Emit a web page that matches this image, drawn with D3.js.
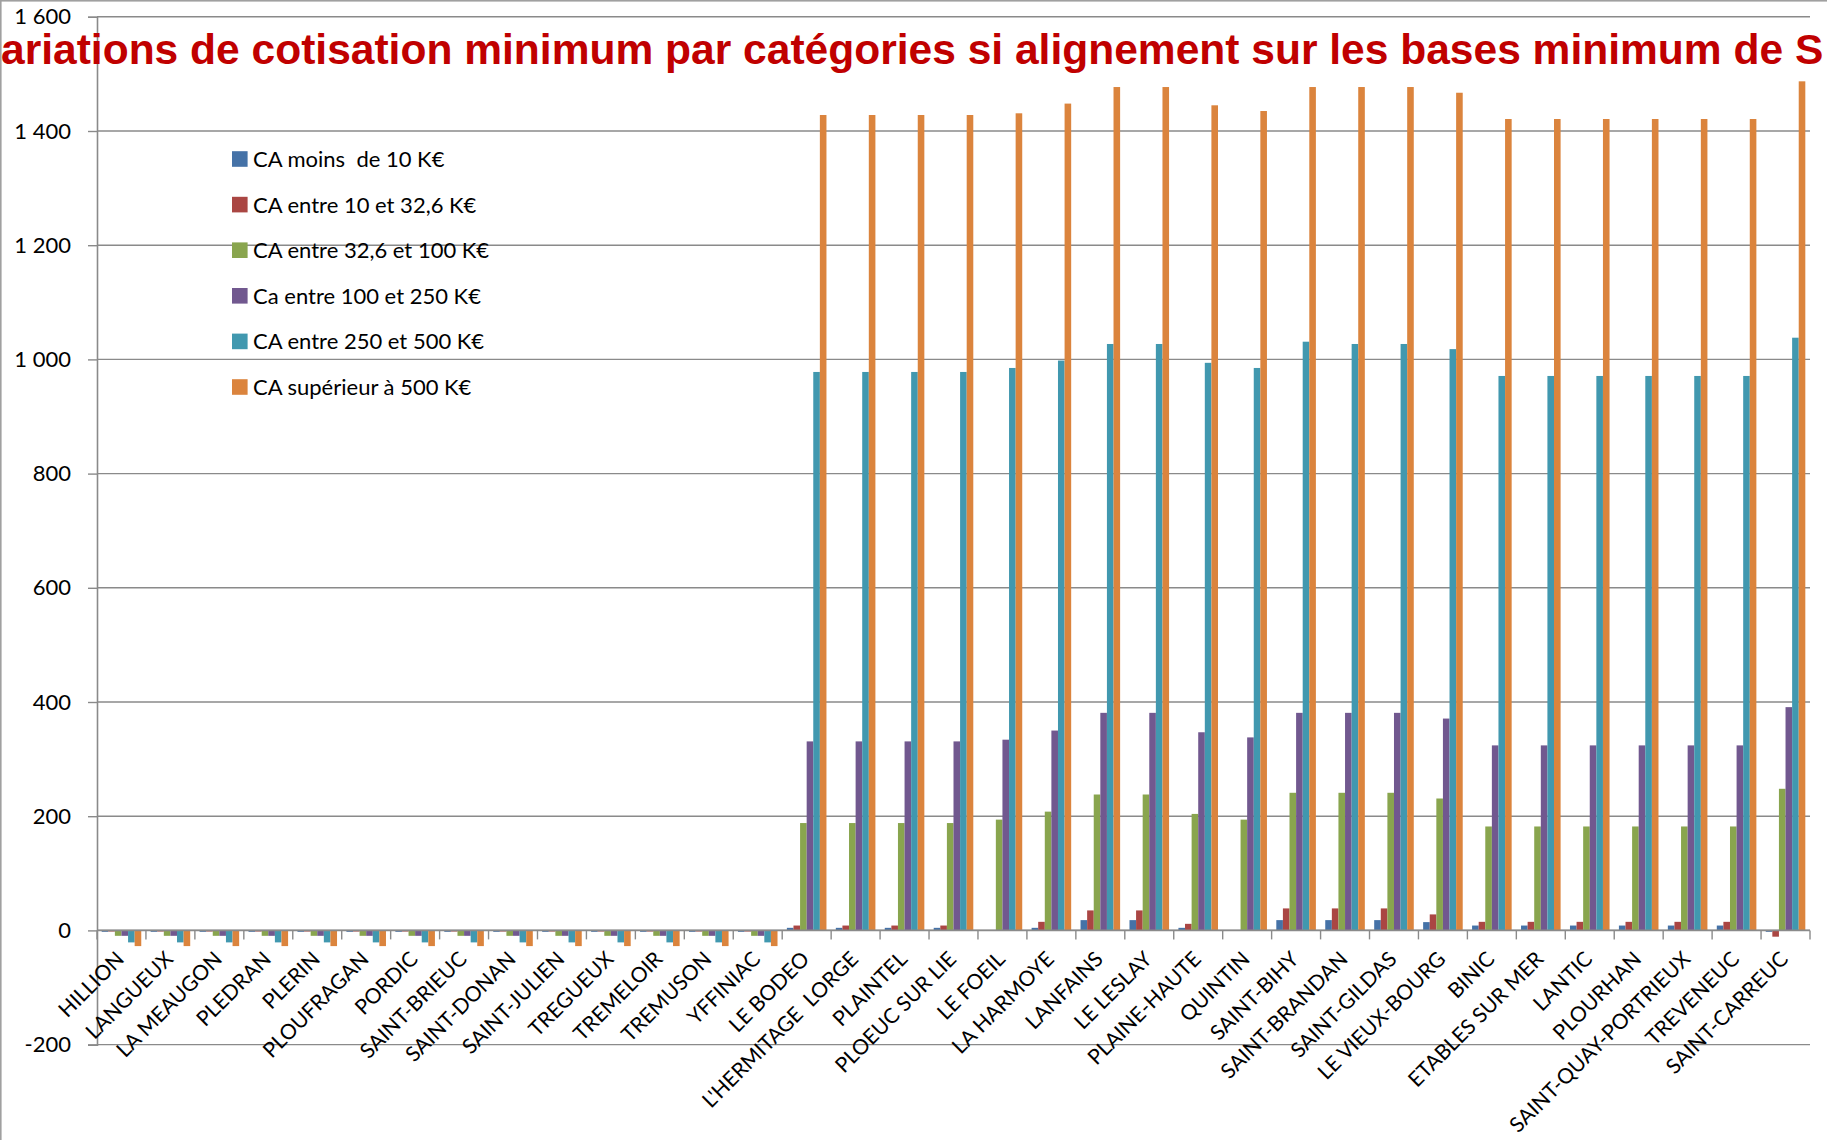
<!DOCTYPE html>
<html>
<head>
<meta charset="utf-8">
<script src="https://cdn.jsdelivr.net/npm/d3@7"></script>
<style>
  html, body { margin: 0; padding: 0; background: #fff; }
  svg { display: block; }
</style>
</head>
<body>
<svg id="chart" width="1827" height="1140"></svg>
<script>
const titleText = "ariations de cotisation minimum par catégories si alignement sur les bases minimum de S";

const categories = [
  "HILLION", "LANGUEUX", "LA MEAUGON", "PLEDRAN", "PLERIN", "PLOUFRAGAN", "PORDIC",
  "SAINT-BRIEUC", "SAINT-DONAN", "SAINT-JULIEN", "TREGUEUX", "TREMELOIR", "TREMUSON",
  "YFFINIAC", "LE BODEO", "L'HERMITAGE  LORGE", "PLAINTEL", "PLOEUC SUR LIE", "LE FOEIL",
  "LA HARMOYE", "LANFAINS", "LE LESLAY", "PLAINE-HAUTE", "QUINTIN", "SAINT-BIHY",
  "SAINT-BRANDAN", "SAINT-GILDAS", "LE VIEUX-BOURG", "BINIC", "ETABLES SUR MER",
  "LANTIC", "PLOURHAN", "SAINT-QUAY-PORTRIEUX", "TREVENEUC", "SAINT-CARREUC"
];

const seriesNames = [
  "CA moins  de 10 K€",
  "CA entre 10 et 32,6 K€",
  "CA entre 32,6 et 100 K€",
  "Ca entre 100 et 250 K€",
  "CA entre 250 et 500 K€",
  "CA supérieur à 500 K€"
];

const seriesColors = ["#4572A7", "#AA4643", "#89A54E", "#71588F", "#4198AF", "#DB843D"];

const caMoins10 = [
  -2.5, -2.5, -2.5, -2.5, -2.5, -2.5, -2.5, -2.5, -2.5, -2.5, -2.5, -2.5, -2.5, -2.5,
  4.5, 4.5, 4.5, 4.5, 0.5, 4.5, 18, 18, 4.5, 0.5, 18, 18, 18, 14.5,
  8.5, 8.5, 8.5, 8.5, 8.5, 8.5, -2.5
];
const ca10a32 = [
  -2, -2, -2, -2, -2, -2, -2, -2, -2, -2, -2, -2, -2, -2,
  8.5, 8.5, 8.5, 8.5, 0.5, 15, 35, 35, 11.5, 0.5, 38.5, 38.5, 38.5, 28,
  15, 15, 15, 15, 15, 15, -11
];
const ca32a100 = [
  -9.5, -9.5, -9.5, -9.5, -9.5, -9.5, -9.5, -9.5, -9.5, -9.5, -9.5, -9.5, -9.5, -9.5,
  188, 188, 188, 188, 194, 208, 238, 238, 204, 194, 241, 241, 241, 231,
  182, 182, 182, 182, 182, 182, 248
];
const ca100a250 = [
  -9.5, -9.5, -9.5, -9.5, -9.5, -9.5, -9.5, -9.5, -9.5, -9.5, -9.5, -9.5, -9.5, -9.5,
  331, 331, 331, 331, 334, 350, 381, 381, 347, 338, 381, 381, 381, 371,
  324, 324, 324, 324, 324, 324, 391
];
const ca250a500 = [
  -21, -21, -21, -21, -21, -21, -21, -21, -21, -21, -21, -21, -21, -21,
  978, 978, 978, 978, 985, 998, 1027, 1027, 994, 985, 1031, 1027, 1027, 1018,
  971, 971, 971, 971, 971, 971, 1038
];
const caSup500 = [
  -27.5, -27.5, -27.5, -27.5, -27.5, -27.5, -27.5, -27.5, -27.5, -27.5, -27.5, -27.5, -27.5, -27.5,
  1428, 1428, 1428, 1428, 1431, 1448, 1477, 1477, 1445, 1435, 1477, 1477, 1477, 1467,
  1421, 1421, 1421, 1421, 1421, 1421, 1487
];

const yTickValues = [-200, 0, 200, 400, 600, 800, 1000, 1200, 1400, 1600];
const yTickLabels = ["-200", "0", "200", "400", "600", "800", "1 000", "1 200", "1 400", "1 600"];

const seriesValues = [caMoins10, ca10a32, ca32a100, ca100a250, ca250a500, caSup500];

// ---- layout ----
const svg = d3.select("#chart");
const plotLeft = 97, plotRight = 1810, plotTop = 16.8, plotBottom = 1044.6;
const gridColor = "#8a8a8a";
const labelFont = "Lato, 'Open Sans', sans-serif";

const y = d3.scaleLinear().domain([-200, 1600]).range([plotBottom, plotTop]);
const x0 = d3.scaleBand().domain(categories).range([plotLeft, plotRight]).padding(0);
const x1 = d3.scaleBand().domain(seriesNames).range([0, x0.bandwidth()])
  .paddingInner(0).paddingOuter(0.71);

// chart frame (top and left edges visible)
svg.append("rect")
  .attr("x", 0.8).attr("y", 0.8).attr("width", 3000).attr("height", 3000)
  .attr("fill", "none").attr("stroke", "#a0a0a0").attr("stroke-width", 1.6);

// gridlines
svg.append("g")
  .selectAll("line")
  .data(yTickValues)
  .join("line")
  .attr("x1", plotLeft).attr("x2", plotRight)
  .attr("y1", d => y(d)).attr("y2", d => y(d))
  .attr("stroke", gridColor).attr("stroke-width", 1.4);

// bars
const groups = svg.append("g")
  .selectAll("g")
  .data(categories)
  .join("g")
  .attr("transform", c => `translate(${x0(c)},0)`);

groups.selectAll("rect")
  .data((c, i) => seriesNames.map((s, k) => ({ s, k, v: seriesValues[k][i] })))
  .join("rect")
  .attr("x", d => x1(d.s))
  .attr("width", x1.bandwidth())
  .attr("y", d => Math.min(y(d.v), y(0)))
  .attr("height", d => Math.abs(y(d.v) - y(0)))
  .attr("fill", d => seriesColors[d.k]);

// y axis
const yAxis = d3.axisLeft(y)
  .tickValues(yTickValues)
  .tickFormat((d, i) => yTickLabels[i])
  .tickSize(9)
  .tickPadding(17);
const gy = svg.append("g").attr("transform", `translate(${plotLeft},0)`).call(yAxis);
gy.select(".domain").attr("stroke", gridColor).attr("stroke-width", 1.6);
gy.selectAll(".tick line").attr("stroke", gridColor).attr("stroke-width", 1.4);
gy.selectAll(".tick text")
  .attr("font-family", labelFont).attr("font-size", 22).attr("fill", "#000");

// x axis (category axis at zero)
const gx = svg.append("g");
gx.append("line")
  .attr("x1", plotLeft).attr("x2", plotRight)
  .attr("y1", y(0)).attr("y2", y(0))
  .attr("stroke", gridColor).attr("stroke-width", 1.6);
const boundaries = categories.map(c => x0(c)).concat([x0(categories[categories.length - 1]) + x0.bandwidth()]);
gx.selectAll("line.tick")
  .data(boundaries)
  .join("line")
  .attr("class", "tick")
  .attr("x1", d => d).attr("x2", d => d)
  .attr("y1", y(0)).attr("y2", y(0) + 9)
  .attr("stroke", gridColor).attr("stroke-width", 1.4);
gx.selectAll("text")
  .data(categories)
  .join("text")
  .attr("transform", c => `translate(${x0(c) + x0.bandwidth() / 2 + 4},${y(0) + 30}) rotate(-45)`)
  .attr("text-anchor", "end")
  .attr("font-family", labelFont)
  .attr("font-size", 21)
  .attr("fill", "#000")
  .style("white-space", "pre")
  .text(c => c);

// legend
const legend = svg.append("g");
const legendItems = legend.selectAll("g")
  .data(seriesNames)
  .join("g")
  .attr("transform", (d, i) => `translate(232,${159 + i * 45.6})`);
legendItems.append("rect")
  .attr("x", 0).attr("y", -7.8).attr("width", 15.6).attr("height", 15.6)
  .attr("fill", (d, i) => seriesColors[i]);
legendItems.append("text")
  .attr("x", 21).attr("y", 0).attr("dy", "0.36em")
  .attr("font-family", labelFont).attr("font-size", 22).attr("fill", "#000")
  .style("white-space", "pre")
  .text(d => d);

// title (clipped at both sides, as in the reference)
const title = svg.append("text")
  .attr("x", 1).attr("y", 63.5)
  .attr("font-family", "'Liberation Sans', Arial, sans-serif")
  .attr("font-weight", "bold")
  .attr("font-size", 42.5)
  .attr("fill", "#C00000")
  .text(titleText);
const tw = title.node().getComputedTextLength();
if (tw > 0) title.attr("font-size", 42.5 * 1823 / tw);
</script>
</body>
</html>
